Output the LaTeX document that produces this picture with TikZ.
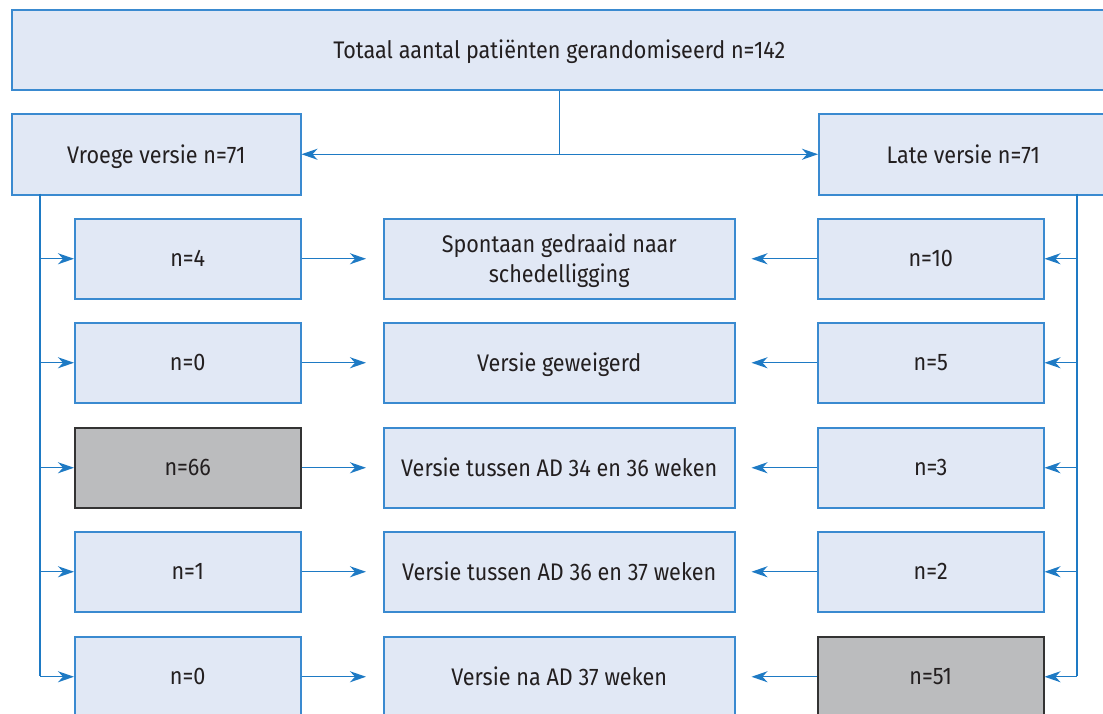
\documentclass[tikz,border=0pt]{standalone}
\usepackage{fontspec}
\setmainfont{Fira Sans}[FakeStretch=0.9]
\usetikzlibrary{arrows.meta}
\definecolor{boxfill}{HTML}{E1E8F5}
\definecolor{boxline}{HTML}{3A8AD0}
\definecolor{arrowc}{HTML}{1E7AC4}
\definecolor{grayfill}{HTML}{BBBCBE}
\definecolor{grayline}{HTML}{333333}
\definecolor{txt}{HTML}{231F20}
\tikzset{
  box/.style={draw=boxline, fill=boxfill, line width=1.5pt, inner sep=0pt, anchor=north west,
    text=txt, font=\fontsize{24}{30}\selectfont, align=center, text depth=1pt},
  graybox/.style={box, draw=grayline, fill=grayfill},
  conn/.style={draw=arrowc, line width=1.3pt},
  arr/.style={conn, -{Stealth[length=16pt,width=11pt,inset=5pt]}},
}
\begin{document}
\begin{tikzpicture}[x=1pt,y=-1pt]
\useasboundingbox (0,0) rectangle (1103,713);
\begin{scope}
\clip (0,0) rectangle (1103,713);
\node[box, minimum width=1095pt, minimum height=80pt] (top) at (11,9) {Totaal aantal patiënten gerandomiseerd n=142};
\node[box, minimum width=289pt, minimum height=81pt] (vroeg) at (11,113) {Vroege versie n=71};
\node[box, minimum width=289pt, minimum height=81pt] (late) at (818,113) {Late versie n=71};
% left column
\node[box, minimum width=226pt, minimum height=80pt] (l1) at (74,218) {n=4};
\node[box, minimum width=226pt, minimum height=80pt] (l2) at (74,322) {n=0};
\node[graybox, minimum width=226pt, minimum height=80pt] (l3) at (74,427) {n=66};
\node[box, minimum width=226pt, minimum height=80pt] (l4) at (74,531) {n=1};
\node[box, minimum width=226pt, minimum height=80pt] (l5) at (74,636) {n=0};
% middle column
\node[box, minimum width=351pt, minimum height=80pt] (m1) at (383,218) {Spontaan gedraaid naar\\schedelligging};
\node[box, minimum width=351pt, minimum height=80pt] (m2) at (383,322) {Versie geweigerd};
\node[box, minimum width=351pt, minimum height=80pt] (m3) at (383,427) {Versie tussen AD 34 en 36 weken};
\node[box, minimum width=351pt, minimum height=80pt] (m4) at (383,531) {Versie tussen AD 36 en 37 weken};
\node[box, minimum width=351pt, minimum height=80pt] (m5) at (383,636) {Versie na AD 37 weken};
% right column
\node[box, minimum width=226pt, minimum height=80pt] (r1) at (817,218) {n=10};
\node[box, minimum width=226pt, minimum height=80pt] (r2) at (817,322) {n=5};
\node[box, minimum width=226pt, minimum height=80pt] (r3) at (817,427) {n=3};
\node[box, minimum width=226pt, minimum height=80pt] (r4) at (817,531) {n=2};
\node[graybox, minimum width=226pt, minimum height=80pt] (r5) at (817,636) {n=51};
% top split
\coordinate (split) at (top.south |- vroeg.east);
\draw[conn] (top.south) -- (split);
\draw[arr] (split) -- (vroeg.east);
\draw[arr] (split) -- (late.west);
% left trunk
\coordinate (ltop) at (40,193.5);
\coordinate (lbot) at (40,676);
\draw[conn] (ltop) -- (lbot);
\foreach \i in {1,...,5} {
  \draw[arr] (ltop |- l\i.west) -- (l\i.west);
  \draw[arr, shorten >=17pt] (l\i.east) -- (m\i.west);
}
% right trunk
\coordinate (rtop) at (1077,193.5);
\coordinate (rbot) at (1077,676);
\draw[conn] (rtop) -- (rbot);
\foreach \i in {1,...,5} {
  \draw[arr] (rtop |- r\i.east) -- (r\i.east);
  \draw[arr, shorten >=16pt] (r\i.west) -- (m\i.east);
}
\end{scope}
\end{tikzpicture}
\end{document}
